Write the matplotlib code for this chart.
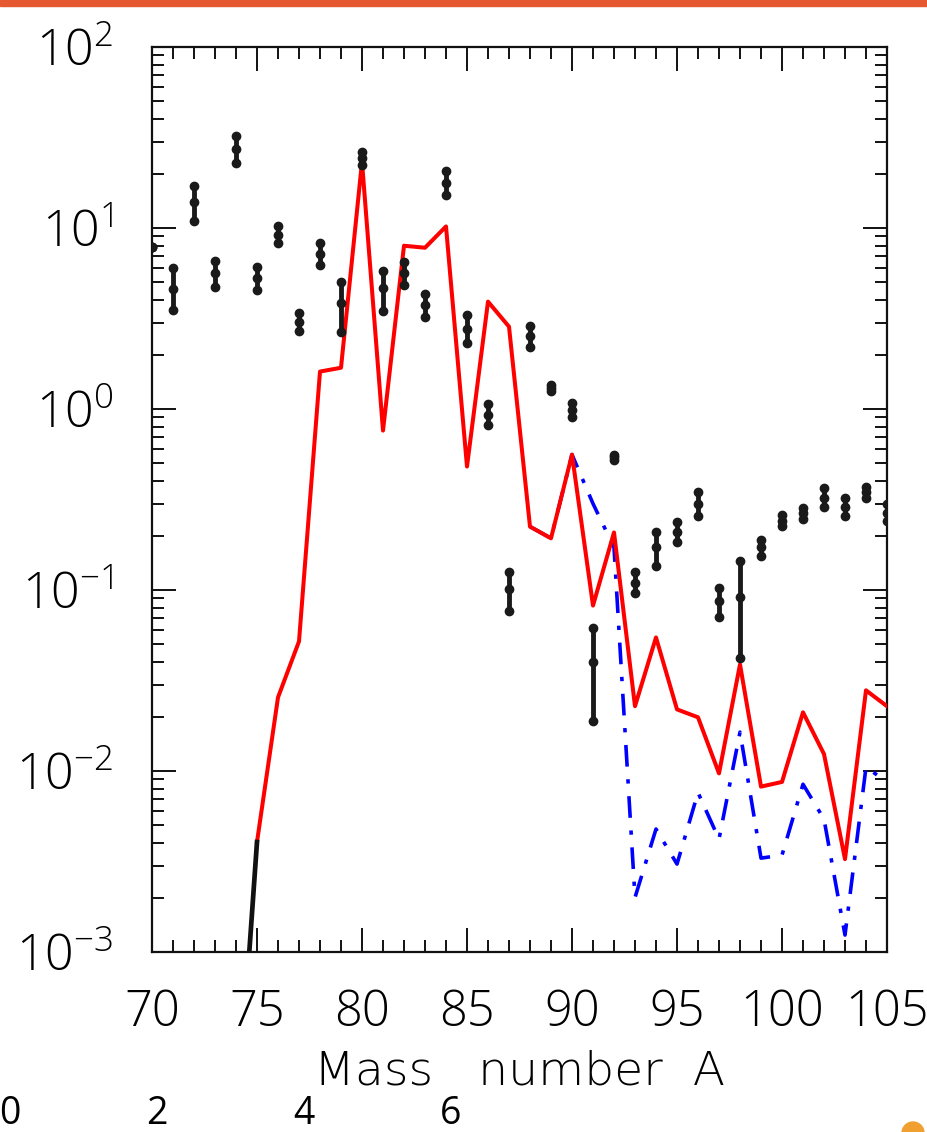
import matplotlib
matplotlib.use('Agg')
import matplotlib.pyplot as plt
from matplotlib.patches import Rectangle, Circle
from matplotlib import font_manager
import numpy as np

# thin wide face for the axis title if it is installed
title_family = 'Open Sans'
for f in font_manager.fontManager.ttflist:
    if f.name == 'DejaVu Sans' and f.weight in (200, 'extra-light', 'ultralight'):
        title_family = 'DejaVu Sans'

plt.rcParams['font.family'] = ['Open Sans', 'DejaVu Sans']
plt.rcParams['mathtext.fontset'] = 'custom'
plt.rcParams['mathtext.rm'] = 'Open Sans:light'
plt.rcParams['mathtext.it'] = 'Open Sans:light'

# measured abundances (black points with error bars)
A_exp = [70, 71, 72, 73, 74, 75, 76, 77, 78, 79, 80, 81, 82, 83, 84, 85, 86, 87,
         88, 89, 90, 91, 92, 93, 94, 95, 96, 97, 98, 99, 100, 101, 102, 103, 104, 105]
y_exp = [7.9, 4.6, 14.0, 5.66, 27.4, 5.31, 9.17, 3.04, 7.21, 3.87, 24.4, 4.68, 5.66, 3.77,
         17.8, 2.78, 0.93, 0.101, 2.54, 1.31, 0.99, 0.040, 0.54, 0.110, 0.172, 0.21,
         0.297, 0.0865, 0.092, 0.172, 0.242, 0.265, 0.324, 0.289, 0.35, 0.268]
y_hi = [7.9, 6.03, 17.1, 6.59, 32.3, 6.11, 10.3, 3.40, 8.28, 5.05, 26.3, 5.80, 6.5, 4.33,
        20.7, 3.32, 1.06, 0.125, 2.89, 1.36, 1.08, 0.062, 0.56, 0.125, 0.208, 0.239,
        0.346, 0.103, 0.144, 0.19, 0.26, 0.285, 0.368, 0.324, 0.373, 0.30]
y_lo = [7.9, 3.54, 10.96, 4.74, 22.9, 4.56, 8.28, 2.71, 6.27, 2.67, 22.3, 3.49, 4.86, 3.24,
        15.2, 2.32, 0.82, 0.077, 2.21, 1.26, 0.90, 0.0188, 0.52, 0.096, 0.135, 0.185,
        0.255, 0.0706, 0.042, 0.155, 0.225, 0.247, 0.286, 0.255, 0.324, 0.24]

# calculation (red solid)
A_calc = list(range(75, 106))
y_calc = [0.00405, 0.0255, 0.052, 1.61, 1.69, 23.2, 0.76, 7.98, 7.78, 10.2, 0.481,
          3.92, 2.85, 0.224, 0.193, 0.56, 0.082, 0.208, 0.0228, 0.0547, 0.0219,
          0.0198, 0.0097, 0.0388, 0.0082, 0.0087, 0.0211, 0.0124, 0.00326, 0.0279, 0.0228]

# low-mass tail (black solid)
A_tail = [74, 75]
y_tail = [9e-5, 0.00405]

# second calculation (blue dash-dot)
A_blue = list(range(88, 106))
y_blue = [0.224, 0.193, 0.56, 0.30, 0.172, 0.0020, 0.00478, 0.00306, 0.0076, 0.0042,
          0.0164, 0.0033, 0.00343, 0.00845, 0.00542, 0.00124, 0.0105, 0.0087]

yticks = [1e-3, 1e-2, 1e-1, 1e0, 1e1, 1e2]
ytick_labels = [r'$10^{-3}$', r'$10^{-2}$', r'$10^{-1}$', r'$10^{0}$', r'$10^{1}$', r'$10^{2}$']
xticks = [70, 75, 80, 85, 90, 95, 100, 105]
stray_ticks = ['0', '2', '4', '6']

fig = plt.figure(figsize=(9.28, 11.32), dpi=100)
ax = fig.add_axes([152/928, 1-952/1132, (887-152)/928, (952-47)/1132])

ax.plot(A_blue, y_blue, color='#0000ff', lw=2.6, ls=(0, (6, 3.5, 1.2, 3.5)), zorder=2)
ax.plot(A_calc, y_calc, color='#ff0000', lw=2.9, zorder=3)
ax.plot(A_tail, y_tail, color='#111111', lw=3.4, zorder=3)

y_exp = np.array(y_exp)
err = [y_exp - np.array(y_lo), np.array(y_hi) - y_exp]
ax.errorbar(A_exp, y_exp, yerr=err, fmt='o', color='#1a1a1a', ms=6, elinewidth=3.5,
            capsize=0, zorder=4)
ax.plot(A_exp, y_lo, 'o', color='#1a1a1a', ms=6, zorder=4)
ax.plot(A_exp, y_hi, 'o', color='#1a1a1a', ms=6, zorder=4)

ax.set_yscale('log')
ax.set_xlim(70, 105)
ax.set_ylim(1e-3, 1e2)
ax.set_xticks(xticks)
ax.set_xticklabels([str(v) for v in xticks])
ax.set_xticks(np.arange(70, 106, 1), minor=True)
ax.set_yticks(yticks)
ax.set_yticklabels(ytick_labels)
ax.yaxis.set_minor_locator(matplotlib.ticker.LogLocator(base=10, subs=np.arange(2, 10)))
ax.yaxis.set_minor_formatter(matplotlib.ticker.NullFormatter())

ax.tick_params(which='both', direction='in', top=True, right=True, width=1.4, color='#111111')
ax.tick_params(which='major', length=17)
ax.tick_params(which='minor', length=8.5)
ax.tick_params(axis='x', which='major', labelsize=35, pad=26)
ax.tick_params(axis='y', which='major', labelsize=36, pad=28)
for lab in ax.get_xticklabels():
    lab.set_fontweight('light')
for sp in ax.spines.values():
    sp.set_linewidth(1.6)
    sp.set_color('#111111')

ax.set_xlabel('Mass   number  A', fontsize=34, family=[title_family, 'DejaVu Sans'],
              fontweight=200, labelpad=8)

# slide decorations
fig.patches.append(Rectangle((0, 1-6/1132), 1, 6/1132, transform=fig.transFigure,
                             color='#e55830', zorder=0))
fig.patches.append(Circle((9.13, -0.01), 0.11, transform=fig.dpi_scale_trans,
                          color='#f0a030', zorder=0))
for i, t in enumerate(stray_ticks):
    fig.text((10 + 147*i)/928, 1-1114/1132, t, ha='center', va='center', fontsize=27)

fig.savefig('out.png', dpi=100)
